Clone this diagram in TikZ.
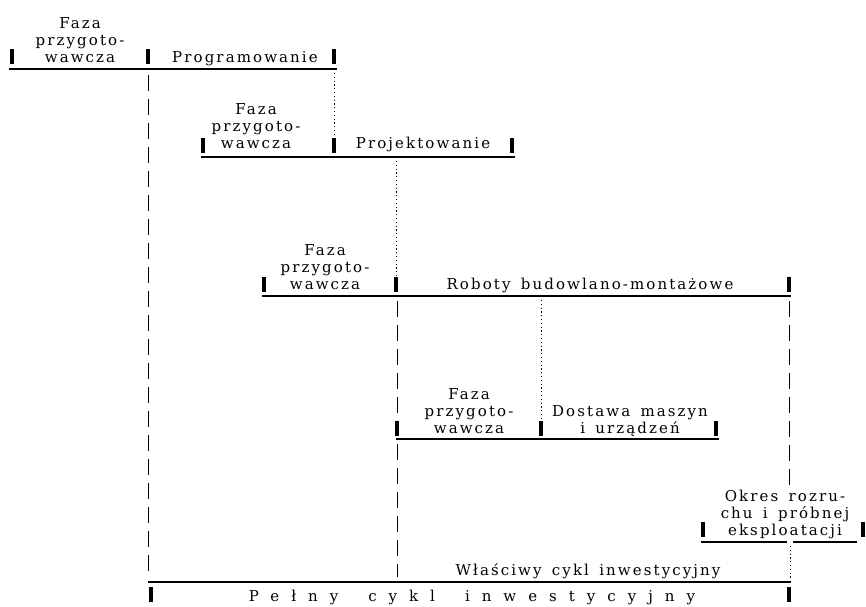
\documentclass[tikz,border=0pt]{standalone}
\usepackage{fontspec}
\setmainfont{DejaVu Serif}
\newfontfamily\lbfont[LetterSpace=14,WordSpace=1.5]{DejaVu Serif}
\newfontfamily\widefont[LetterSpace=80]{DejaVu Serif}
\usetikzlibrary{calc}
\begin{document}
\begin{tikzpicture}[x=1pt,y=-1pt,
  mk/.style={fill=black,inner sep=0pt,minimum width=4.5pt,minimum height=15pt,anchor=south},
  bar/.style={line width=2.2pt},
  lbl/.style={font=\lbfont\fontsize{15}{17}\selectfont,align=center,inner sep=0pt,anchor=base},
  wide/.style={font=\widefont\fontsize{15}{17}\selectfont,inner sep=0pt,anchor=base},
  dashv/.style={line width=0.8pt,dash pattern=on 16pt off 8pt},
  dotv/.style={line width=0.9pt,dash pattern=on 1.2pt off 2.6pt}]
\useasboundingbox (0,0) rectangle (866,606);

% Row 1
\node[mk] (m1a) at (12,64) {};
\node[mk] (m1b) at (148,64) {};
\node[mk] (m1c) at (334,64) {};
\coordinate (l1s) at (9,69); \coordinate (l1e) at (337,69);
\draw[bar] (l1s) -- (l1e);
\node[lbl] (t1a) at (80,62) {Faza\\przygoto-\\wawcza};
\node[lbl] (t1b) at (245,62) {Programowanie};

% Row 2
\node[mk] (m2a) at (203,153) {};
\node[mk] (m2b) at (334,153) {};
\node[mk] (m2c) at (512,153) {};
\coordinate (l2s) at (201,157); \coordinate (l2e) at (515,157);
\draw[bar] (l2s) -- (l2e);
\node[lbl] (t2a) at (256,148) {Faza\\przygoto-\\wawcza};
\node[lbl] (t2b) at (423,148) {Projektowanie};

% Row 3
\node[mk] (m3a) at (264,292) {};
\node[mk] (m3b) at (396,292) {};
\node[mk] (m3c) at (789,292) {};
\coordinate (l3s) at (262,296); \coordinate (l3e) at (791,296);
\draw[bar] (l3s) -- (l3e);
\node[lbl] (t3a) at (325,289) {Faza\\przygoto-\\wawcza};
\node[lbl] (t3b) at (590,289) {Roboty budowlano-montażowe};

% Row 4
\node[mk] (m4a) at (397,436) {};
\node[mk] (m4b) at (541,436) {};
\node[mk] (m4c) at (716,436) {};
\coordinate (l4s) at (396,439); \coordinate (l4e) at (719,439);
\draw[bar] (l4s) -- (l4e);
\node[lbl] (t4a) at (469,433) {Faza\\przygoto-\\wawcza};
\node[lbl] (t4b) at (630,433) {Dostawa maszyn\\i urządzeń};

% Row 5
\node[mk] (m5a) at (703,537) {};
\node[mk] (m5b) at (863,537) {};
\coordinate (l5s) at (701,542); \coordinate (l5g1) at (787,542);
\coordinate (l5g2) at (793,542); \coordinate (l5e) at (857,542);
\draw[bar] (l5s) -- (l5g1);
\draw[bar] (l5g2) -- (l5e);
\node[lbl] (t5) at (785,535) {Okres rozru-\\chu i próbnej\\eksploatacji};

% Bottom
\coordinate (l6s) at (148,582); \coordinate (l6e) at (791,582);
\draw[bar] (l6s) -- (l6e);
\node[lbl] (t6) at (588,575) {Właściwy cykl inwestycyjny};
\node[mk,anchor=north] (m6a) at (151,587) {};
\node[mk,anchor=north] (m6b) at (789,587) {};
\node[wide] (t7) at (472,601) {Pełny\hspace{30pt}cykl\hspace{30pt}inwestycyjny};

% Vertical guides
\coordinate (v1s) at (148,75); \coordinate (v1e) at (148,578);
\draw[dashv] (v1s) -- (v1e);
\coordinate (d1s) at (334,73);
\draw[dotv] (d1s) -- (m2b.north);
\coordinate (d2s) at (396,161);
\draw[dotv] (d2s) -- (m3b.north);
\coordinate (v2s) at (397,301);
\draw[dashv] (v2s) -- (m4a.north);
\coordinate (v3s) at (397,444); \coordinate (v3e) at (397,577);
\draw[dashv] (v3s) -- (v3e);
\coordinate (d3s) at (541,300);
\draw[dotv] (d3s) -- (m4b.north);
\coordinate (v4s) at (789,301); \coordinate (v4e) at (789,486);
\draw[dashv] (v4s) -- (v4e);
\coordinate (d4s) at (790,546); \coordinate (d4e) at (790,578);
\draw[dotv] (d4s) -- (d4e);
\end{tikzpicture}
\end{document}
